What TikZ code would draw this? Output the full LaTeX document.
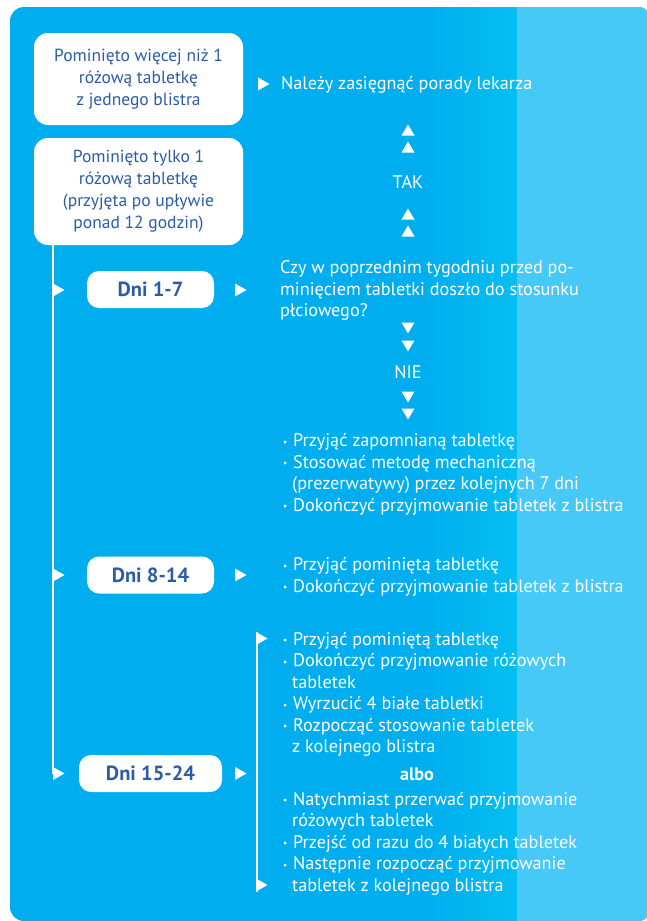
\documentclass[tikz,border=0pt]{standalone}
\usepackage{fontspec}
\setmainfont{PT Sans}
\definecolor{bgblue}{HTML}{00AEEF}
\definecolor{bgmid}{HTML}{06BEF1}
\definecolor{bglight}{HTML}{46C9F6}
\definecolor{txtblue}{HTML}{2B5DA7}
\newcommand\bul{\makebox[10pt][l]{\raisebox{1.2pt}{\fontsize{9.5}{9.5}\selectfont\textbullet}}}
\newcommand\ind{\hspace*{9pt}}
\newcommand\rtri[2]{\fill[white] (#1,#2-6.5) -- (#1+11.5,#2) -- (#1,#2+6.5) -- cycle;}
\newcommand\utri[2]{\fill[white] (#1-6.5,#2+5.5) -- (#1,#2-5.5) -- (#1+6.5,#2+5.5) -- cycle;}
\newcommand\dtri[2]{\fill[white] (#1-6.5,#2-5.5) -- (#1,#2+5.5) -- (#1+6.5,#2-5.5) -- cycle;}
\tikzset{
  whitebox/.style={fill=white, rounded corners=14pt, text=txtblue, align=center, inner sep=0pt,
    font=\fontsize{17.5}{22}\selectfont},
  dnibox/.style={fill=white, rounded corners=12pt, text=txtblue, inner sep=0pt, minimum height=37pt,
    font=\fontsize{20.5}{24}\selectfont\bfseries},
  wtext/.style={text=white, align=left, anchor=base west, inner sep=0pt,
    font=\fontsize{18.2}{21.5}\selectfont},
  wlabel/.style={text=white, inner sep=0pt, font=\fontsize{18.2}{21.5}\selectfont},
  conn/.style={draw=white, line width=2pt},
}
\begin{document}
\begin{tikzpicture}[x=1pt,y=-1pt]
\useasboundingbox (0,0) rectangle (646,921);
% background
\begin{scope}
  \clip[rounded corners=14pt] (10,7) rectangle (652,921);
  \fill[bgblue] (0,0) rectangle (660,930);
  \shade[left color=bgblue, right color=bgmid] (425,0) rectangle (517.5,930);
  \fill[bglight] (517,0) rectangle (660,930);
\end{scope}
% left boxes
\node[whitebox, minimum width=209pt, minimum height=92pt] (b1) at (138.5,79)
  {Pominięto więcej niż 1\\różową tabletkę\\z jednego blistra};
\node[whitebox, minimum width=209pt, minimum height=107pt] (b2) at (138.5,191.5)
  {Pominięto tylko 1\\różową tabletkę\\(przyjęta po upływie\\ponad 12 godzin)};
\node[dnibox, minimum width=127pt] (d1) at (150.5,289.5) {Dni 1-7};
\node[dnibox, minimum width=127pt] (d2) at (150.5,575) {Dni 8-14};
\node[dnibox, minimum width=143pt] (d3) at (150.5,773.5) {Dni 15-24};
% left vertical connector
\coordinate (lbot) at (53,773.5);
\draw[conn] (b2.south -| lbot) -- (lbot);
\rtri{53}{290}
\rtri{53}{575}
\rtri{53}{773.5}
% arrows after Dni boxes
\rtri{235}{290}
\rtri{235}{575}
\rtri{235}{773.5}
% top line
\rtri{258}{84}
\node[wtext] (lek) at (281,89.5) {Należy zasięgnąć porady lekarza};
% TAK
\utri{408}{130}
\utri{408}{147}
\node[wlabel] (tak) at (408,182) {TAK};
\utri{408}{214}
\utri{408}{231}
% question (base = last line)
\node[wtext] (q) at (280,316.5) {Czy w poprzednim tygodniu przed po-\\minięciem tabletki doszło do stosunku\\płciowego?};
\dtri{408}{328}
\dtri{408}{346}
\node[wlabel] (nie) at (408,372) {NIE};
\dtri{408}{397}
\dtri{408}{414}
% Dni 1-7 actions
\node[wtext] (a1) at (283,511) {\bul Przyjąć zapomnianą tabletkę\\
\bul Stosować metodę mechaniczną\\
\ind(prezerwatywy) przez kolejnych 7 dni\\
\bul Dokończyć przyjmowanie tabletek z blistra};
% Dni 8-14 actions
\node[wtext] (a2) at (283,592) {\bul Przyjąć pominiętą tabletkę\\
\bul Dokończyć przyjmowanie tabletek z blistra};
% Dni 15-24 bracket
\coordinate (bt) at (257,632);
\coordinate (bb) at (257,892);
\draw[conn] (bt) -- (bb);
\rtri{256}{638.5}
\rtri{256}{885}
\node[wtext] (a3) at (283,752.5) {\bul Przyjąć pominiętą tabletkę\\
\bul Dokończyć przyjmowanie różowych\\
\ind tabletek\\
\bul Wyrzucić 4 białe tabletki\\
\bul Rozpocząć stosowanie tabletek\\
\ind z kolejnego blistra};
\node[wlabel, font=\fontsize{18.2}{21.5}\selectfont\bfseries] (albo) at (417,774) {albo};
\node[wtext] (a4) at (283,891) {\bul Natychmiast przerwać przyjmowanie\\
\ind różowych tabletek\\
\bul Przejść od razu do 4 białych tabletek\\
\bul Następnie rozpocząć przyjmowanie\\
\ind tabletek z kolejnego blistra};
\end{tikzpicture}
\end{document}
